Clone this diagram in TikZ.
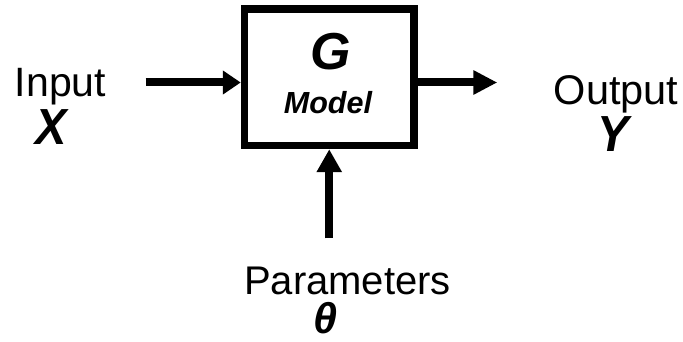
\documentclass[tikz,border=0pt]{standalone}
\usepackage{fontspec}
\setmainfont{Liberation Sans}
\usetikzlibrary{arrows.meta}
\tikzset{
  conn/.style={line width=8pt},
  lbl/.style={inner sep=0pt, anchor=base},
  vbl/.style={inner sep=0pt, anchor=base},
  blockbox/.style={draw, line width=7.5pt, minimum width=169.5pt, minimum height=136.5pt, inner sep=0pt}
}
\begin{document}
\begin{tikzpicture}[x=1pt,y=-1pt]
\useasboundingbox (0,0) rectangle (683,342);
\node[blockbox] (box) at (329.25,77.25) {};
\node[vbl, font=\fontsize{52}{52}\selectfont\bfseries\itshape] (G) at (331,69.5) {G};
\node[vbl, font=\fontsize{30.5}{30.5}\selectfont\bfseries\itshape] (M) at (328,113.3) {Model};
\node[lbl, font=\fontsize{41}{41}\selectfont] (inp) at (60.5,96.7) {Input};
\node[vbl, font=\fontsize{47}{47}\selectfont\bfseries\itshape] (X) at (51,145) {\scalebox{1}[1.08]{X}};
\node[lbl, font=\fontsize{41.5}{41.5}\selectfont] (outp) at (616,105) {Output};
\node[vbl, font=\fontsize{47}{47}\selectfont\bfseries\itshape] (Y) at (613,151.5) {\scalebox{1}[1.08]{Y}};
\node[lbl, font=\fontsize{40}{40}\selectfont] (par) at (347.5,294.3) {Parameters};
\node[vbl, font=\fontsize{43}{43}\selectfont\bfseries\itshape] (th) at (325.5,333.5) {θ};
\coordinate (inS) at (145.7,82.5);
\coordinate (outE) at (497.3,82.5);
\coordinate (parS) at (329.25,238.3);
\draw[conn, -{Triangle[length=18pt,width=23pt]}] (inS) -- (box.west |- inS);
\draw[conn, -{Triangle[length=24pt,width=23pt]}] (box.east |- outE) -- (outE);
\draw[conn, -{Triangle[length=23pt,width=24pt]}] (parS) -- (box.south);
\end{tikzpicture}
\end{document}
